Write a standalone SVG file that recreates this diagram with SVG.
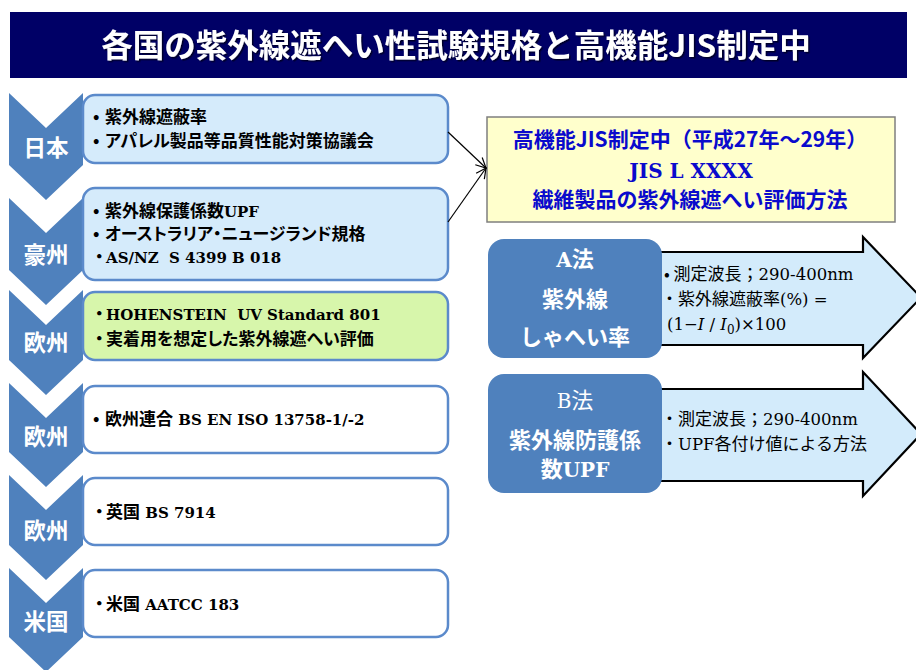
<svg xmlns="http://www.w3.org/2000/svg" width="916" height="670" viewBox="0 0 916 670">
<style>
.chev{fill:#4F81BD}
.clbl{font-family:"Noto Sans CJK JP","Noto Sans",sans-serif;font-weight:bold;font-size:22.5px;fill:#fff;text-anchor:middle}
.box{stroke:#5B8ACB;stroke-width:2.5}
.btxt{font-family:"Noto Sans CJK JP","Noto Sans",sans-serif;font-weight:bold;font-size:17px;fill:#000;font-feature-settings:"palt";white-space:pre}
.l{font-family:"DejaVu Serif","Liberation Serif",serif;font-size:15px}
.jis{font-family:"Noto Sans CJK JP","Noto Sans",sans-serif;font-weight:bold;font-size:21px;fill:#0A0ACC;text-anchor:middle}
.jisl{font-family:"DejaVu Serif","Liberation Serif",serif;font-weight:bold;font-size:20px;fill:#0A0ACC;text-anchor:middle}
.mbox{fill:#4F81BD}
.mtxt{font-family:"Noto Sans CJK JP","Noto Sans",sans-serif;font-size:22px;fill:#fff;text-anchor:middle}
.mtxtb{font-family:"Noto Sans CJK JP","Noto Sans",sans-serif;font-weight:bold;font-size:22px;fill:#fff;text-anchor:middle}
.ml{font-family:"DejaVu Serif","Liberation Serif",serif;font-size:20px}
.arr{fill:#D3EBFB;stroke:#000;stroke-width:2.2}
.atxt{font-family:"Noto Sans CJK JP","Noto Sans",sans-serif;font-size:17px;fill:#000}
.al{font-family:"DejaVu Serif","Liberation Serif",serif;font-size:16.5px}
.conn{stroke:#000;stroke-width:1.2;fill:none}
</style>
<defs>
<marker id="open" viewBox="0 0 12 12" refX="11" refY="6" markerWidth="12" markerHeight="12" markerUnits="userSpaceOnUse" orient="auto">
<path d="M1,1 L11,6 L1,11" fill="none" stroke="#000" stroke-width="1.2"/>
</marker>
<filter id="sh" x="-5%" y="-20%" width="110%" height="140%">
<feDropShadow dx="1.5" dy="1.5" stdDeviation="0.6" flood-color="#000" flood-opacity="0.6"/>
</filter>
</defs>

<g id="title">
<rect x="10" y="12" width="897" height="66" fill="#000066"/>
<text x="456" y="57" font-family="'Noto Sans CJK JP','Noto Sans',sans-serif" font-weight="bold" font-size="31.5" fill="#fff" text-anchor="middle" filter="url(#sh)">各国の紫外線遮へい性試験規格と高機能JIS制定中</text>
</g>

<g id="row-japan">
<path class="chev" d="M9,93 L46,128 L83,93 L83,165 L46,200 L9,165 Z"/>
<text class="clbl" x="46" y="156">日本</text>
<rect class="box" x="83" y="95" width="365" height="68" rx="12" fill="#D5EBFB"/>
<text class="btxt" y="123"><tspan x="93">•</tspan><tspan x="105">紫外線遮蔽率</tspan></text>
<text class="btxt" y="147"><tspan x="93">•</tspan><tspan x="105">アパレル製品等品質性能対策協議会</tspan></text>
</g>

<g id="row-australia">
<path class="chev" d="M9,198 L46,233 L83,198 L83,270 L46,305 L9,270 Z"/>
<text class="clbl" x="46" y="263">豪州</text>
<rect class="box" x="83" y="188" width="365" height="92" rx="12" fill="#D5EBFB"/>
<text class="btxt" y="217"><tspan x="93">•</tspan><tspan x="105">紫外線保護係数</tspan><tspan class="l">UPF</tspan></text>
<text class="btxt" y="240"><tspan x="93">•</tspan><tspan x="105">オーストラリア・ニュージランド規格</tspan></text>
<text class="btxt" y="263"><tspan x="95">・</tspan><tspan x="106" class="l">AS/NZ  S 4399 B 018</tspan></text>
</g>

<g id="row-europe1">
<path class="chev" d="M9,290 L46,325 L83,290 L83,360 L46,395 L9,360 Z"/>
<text class="clbl" x="46" y="351">欧州</text>
<rect class="box" x="83" y="292" width="365" height="68" rx="12" fill="#D7F6AB"/>
<text class="btxt" y="320"><tspan x="95">・</tspan><tspan x="106" class="l">HOHENSTEIN  UV Standard 801</tspan></text>
<text class="btxt" y="345"><tspan x="95">・</tspan><tspan x="106">実着用を想定した紫外線遮へい評価</tspan></text>
</g>

<g id="row-europe2">
<path class="chev" d="M9,383 L46,418 L83,383 L83,452 L46,487 L9,452 Z"/>
<text class="clbl" x="46" y="445">欧州</text>
<rect class="box" x="83" y="386" width="365" height="67" rx="12" fill="#fff"/>
<text class="btxt" y="425"><tspan x="93">•</tspan><tspan x="105">欧州連合</tspan><tspan class="l"> BS EN ISO 13758-1/-2</tspan></text>
</g>

<g id="row-europe3">
<path class="chev" d="M9,475 L46,510 L83,475 L83,545 L46,580 L9,545 Z"/>
<text class="clbl" x="46" y="539">欧州</text>
<rect class="box" x="83" y="478" width="365" height="67" rx="12" fill="#fff"/>
<text class="btxt" y="518"><tspan x="95">・</tspan><tspan x="106">英国</tspan><tspan class="l"> BS 7914</tspan></text>
</g>

<g id="row-usa">
<path class="chev" d="M9,568 L46,603 L83,568 L83,637 L46,672 L9,637 Z"/>
<text class="clbl" x="46" y="630">米国</text>
<rect class="box" x="83" y="570" width="365" height="67" rx="12" fill="#fff"/>
<text class="btxt" y="610"><tspan x="95">・</tspan><tspan x="106">米国</tspan><tspan class="l"> AATCC 183</tspan></text>
</g>

<g id="jis-box">
<rect x="487" y="117" width="408" height="105" fill="#FFFFCC" stroke="#7F7F7F" stroke-width="1.5"/>
<text class="jis" x="690" y="147" font-size="21.2">高機能JIS制定中（平成27年～29年）</text>
<text class="jisl" x="691" y="178">JIS L XXXX</text>
<text class="jis" x="690" y="207" font-size="22.4">繊維製品の紫外線遮へい評価方法</text>
</g>

<g id="method-a">
<path class="arr" d="M655,252 L863,252 L863,237 L921,297.5 L863,358 L863,345 L655,345 Z"/>
<rect class="mbox" x="488" y="239" width="174" height="119" rx="16"/>
<text class="mtxtb" x="575" y="267"><tspan class="ml" font-weight="bold">A</tspan>法</text>
<text class="mtxtb" x="575" y="307">紫外線</text>
<text class="mtxtb" x="575" y="345">しゃへい率</text>
<text class="atxt" x="664" y="280">• 測定波長；<tspan class="al">290-400nm</tspan></text>
<text class="atxt" x="661" y="305">・紫外線遮蔽率<tspan class="al">(%) =</tspan></text>
<text class="atxt" x="667" y="330"><tspan class="al" font-size="18">(1−<tspan font-style="italic">I</tspan> / <tspan font-style="italic">I</tspan><tspan font-size="12" dy="4">0</tspan><tspan dy="-4">)×100</tspan></tspan></text>
</g>

<g id="method-b">
<path class="arr" d="M655,389 L863,389 L863,372 L921,434 L863,496 L863,481 L655,481 Z"/>
<rect class="mbox" x="488" y="374" width="174" height="119" rx="16"/>
<text class="mtxt" x="575" y="408"><tspan class="ml">B</tspan>法</text>
<text class="mtxtb" x="575" y="448" font-size="21.5">紫外線防護係</text>
<text class="mtxtb" x="575" y="477" font-size="21.5">数<tspan class="ml" font-weight="bold">UPF</tspan></text>
<text class="atxt" x="661" y="425">・測定波長；<tspan class="al">290-400nm</tspan></text>
<text class="atxt" x="661" y="450">・<tspan class="al">UPF</tspan>各付け値による方法</text>
</g>

<g id="connectors">
<line class="conn" x1="448" y1="132" x2="486" y2="168" marker-end="url(#open)"/>
<line class="conn" x1="448" y1="222" x2="486" y2="168" marker-end="url(#open)"/>
</g>
</svg>
